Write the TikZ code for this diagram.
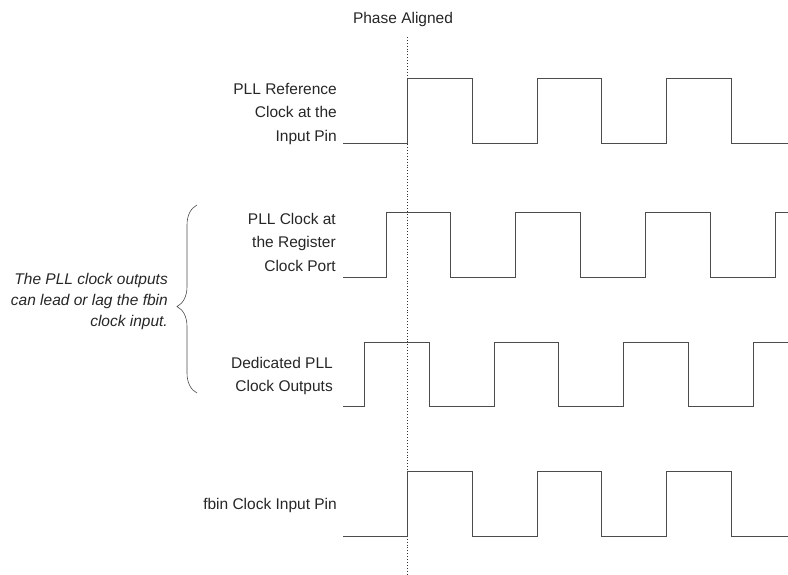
\documentclass[tikz,border=0pt]{standalone}
\usepackage{fontspec}
\setmainfont{Liberation Sans}
\usetikzlibrary{decorations.pathreplacing}

\tikzset{
	lbl/.style = {inner sep = 0pt, align = right, anchor = east,
				  font = \fontsize{15.5}{23.5}\selectfont, text = black!85},
	note/.style = {lbl, font = \fontsize{15.5}{21}\selectfont\itshape},
	wave/.style = {black!70, line width = 0.9pt, line join = miter},
}

\begin{document}
\begin{tikzpicture}[x = 1pt, y = -1pt]

	\useasboundingbox (0,0) rectangle (788,575);

	% labels
	\draw (403,19) node[lbl, anchor = center] (aligned) {Phase Aligned};

	\draw (337,114) node[lbl] (refclk) {PLL Reference\\Clock at the\\Input Pin};

	\draw (336,242) node[lbl] (regclk) {PLL Clock at\\the Register\\Clock Port};

	\draw (333,376) node[lbl] (dedclk) {Dedicated PLL\\Clock Outputs};

	\draw (337,505) node[lbl] (fbin) {fbin Clock Input Pin};

	\draw (168,301) node[note] (remark)
		{The PLL clock outputs\\can lead or lag the fbin\\clock input.};

	% phase aligned marker
	\draw[black!80, line width = 0.9pt, dotted] (407,37) -- (407,575);

	% brace
	\draw[black!70, line width = 0.6pt,
		  decorate, decoration = {brace, amplitude = 20pt, aspect = 0.46}]
		(197,393) -- (197,205);

	% waveforms
	\draw[wave] (343,143) -- (407,143) -- (407,78) -- (472,78) -- (472,143)
		-- (537,143) -- (537,78) -- (601,78) -- (601,143) -- (666,143)
		-- (666,78) -- (731,78) -- (731,143) -- (788,143);

	\draw[wave] (343,277) -- (386,277) -- (386,212) -- (450,212) -- (450,277)
		-- (515,277) -- (515,212) -- (580,212) -- (580,277) -- (645,277)
		-- (645,212) -- (710,212) -- (710,277) -- (775,277) -- (775,212)
		-- (788,212);

	\draw[wave] (343,406) -- (364,406) -- (364,342) -- (429,342) -- (429,406)
		-- (494,406) -- (494,342) -- (558,342) -- (558,406) -- (623,406)
		-- (623,342) -- (688,342) -- (688,406) -- (753,406) -- (753,342)
		-- (788,342);

	\draw[wave] (343,536) -- (407,536) -- (407,471) -- (472,471) -- (472,536)
		-- (537,536) -- (537,471) -- (601,471) -- (601,536) -- (666,536)
		-- (666,471) -- (731,471) -- (731,536) -- (788,536);

\end{tikzpicture}
\end{document}
